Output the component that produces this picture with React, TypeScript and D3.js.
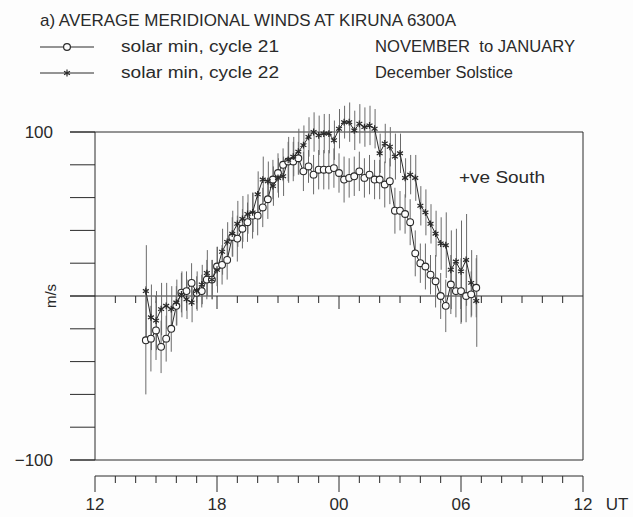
import React from 'react';
import * as d3 from 'd3';

// UT hours (12 = 12 UT, 24 = 00 UT next day, ...)
const utHours = [
  14.5, 14.75, 15, 15.25, 15.5, 15.75, 16, 16.25, 16.5, 16.75, 17, 17.25, 17.5, 17.75,
  18, 18.25, 18.5, 18.75, 19, 19.25, 19.5, 19.75, 20, 20.25, 20.5, 20.75,
  21, 21.25, 21.5, 21.75, 22, 22.25, 22.5, 22.75, 23, 23.25, 23.5, 23.75,
  24, 24.25, 24.5, 24.75, 25, 25.25, 25.5, 25.75, 26, 26.25, 26.5, 26.75,
  27, 27.25, 27.5, 27.75, 28, 28.25, 28.5, 28.75, 29, 29.25, 29.5, 29.75,
  30, 30.25, 30.5, 30.75,
];

// solar min, cycle 21 (circles)
const cycle21 = [
  -27, -26, -21, -31, -26, -20, -6, 2, 3, 8, 2, 3, 10, 10,
  18, 19, 22, 36, 35, 41, 45, 49, 49, 54, 59, 71,
  75, 80, 82, 82, 84, 76, 79, 74, 77, 77, 77, 78,
  75, 71, 72, 73, 76, 72, 74, 71, 71, 68, 70, 52,
  52, 50, 45, 26, 20, 18, 13, 9, 0, -6, 7, 3,
  3, 0, 1, 5,
];
const err21 = [
  33, 20, 18, 16, 14, 14, 12, 12, 12, 12, 10, 10, 12, 12,
  12, 12, 12, 12, 14, 12, 12, 14, 12, 12, 12, 12,
  12, 10, 12, 12, 10, 12, 10, 12, 12, 12, 12, 12,
  12, 14, 12, 12, 12, 12, 12, 12, 12, 14, 14, 14,
  12, 12, 14, 14, 12, 14, 12, 16, 14, 16, 18, 16,
  20, 16, 14, 18,
];

// solar min, cycle 22 (stars)
const cycle22 = [
  3, -13, -15, -8, -6, -8, -4, 1, -2, -4, 3, 7, 14, 10,
  16, 27, 33, 38, 44, 47, 50, 51, 62, 71, 70, 67,
  72, 73, 83, 85, 88, 92, 97, 100, 98, 99, 99, 95,
  102, 106, 106, 101, 105, 103, 104, 102, 87, 93, 91, 85,
  87, 72, 74, 72, 55, 51, 44, 38, 32, 31, 16, 21,
  15, 22, 8, -3,
];
const err22 = [
  28, 20, 18, 16, 14, 14, 14, 14, 12, 12, 12, 12, 14, 12,
  14, 14, 12, 14, 14, 14, 12, 12, 14, 14, 12, 12,
  12, 12, 14, 12, 14, 12, 12, 12, 12, 12, 12, 12,
  12, 10, 12, 12, 12, 12, 12, 12, 12, 12, 12, 14,
  12, 12, 12, 14, 12, 14, 12, 14, 16, 20, 24, 20,
  31, 28, 20, 28,
];

const yTicks = [-100, -80, -60, -40, -20, 0, 20, 40, 60, 80, 100];
const hourTicks = d3.range(13, 36);
const majorHours = [12, 18, 24, 30, 36];
const hourLabels = ['12', '18', '00', '06', '12'];

const INK = '#2a2a2a';
const BG = '#fdfdfd';
const FONT = '"Liberation Sans", Arial, sans-serif';

function Star({ cx, cy }: { cx: number; cy: number }) {
  const r = 3.4;
  const d = r * 0.87;
  return (
    <path
      d={`M${cx},${cy - r}V${cy + r}M${cx - d},${cy - r / 2}L${cx + d},${cy + r / 2}M${cx - d},${cy + r / 2}L${cx + d},${cy - r / 2}`}
      stroke={INK}
      strokeWidth={1.2}
      fill="none"
    />
  );
}

export default function App() {
  const x = d3.scaleLinear().domain([12, 36]).range([95, 583]);
  const y = d3.scaleLinear().domain([-100, 100]).range([460, 132]);
  const axisY = 476;

  const line = d3
    .line<number>()
    .x((_, i) => x(utHours[i]))
    .y((d) => y(d));

  return (
    <svg
      width={633}
      height={517}
      style={{ position: 'absolute', left: 0, top: 0, background: BG }}
      fontFamily={FONT}
    >
      {/* header */}
      <text x={40} y={26} fontSize={17} fill={INK} textLength={416} lengthAdjust="spacingAndGlyphs">
        a) AVERAGE MERIDIONAL WINDS AT KIRUNA 6300A
      </text>
      <line x1={40} x2={94} y1={47} y2={47} stroke={INK} strokeWidth={1} />
      <circle cx={67} cy={47} r={3.4} fill={BG} stroke={INK} strokeWidth={1.2} />
      <text x={121} y={52} fontSize={16} fill={INK} textLength={158} lengthAdjust="spacingAndGlyphs">
        solar min, cycle 21
      </text>
      <text
        x={375}
        y={52}
        fontSize={16}
        fill={INK}
        textLength={200}
        lengthAdjust="spacingAndGlyphs"
        style={{ whiteSpace: 'pre' }}
      >
        NOVEMBER  to JANUARY
      </text>
      <line x1={40} x2={94} y1={73} y2={73} stroke={INK} strokeWidth={1} />
      <Star cx={67} cy={73} />
      <text x={121} y={78} fontSize={16} fill={INK} textLength={158} lengthAdjust="spacingAndGlyphs">
        solar min, cycle 22
      </text>
      <text x={375} y={78} fontSize={16} fill={INK} textLength={138} lengthAdjust="spacingAndGlyphs">
        December Solstice
      </text>

      {/* frame */}
      <line x1={x(12)} x2={x(12)} y1={y(100)} y2={y(-100)} stroke={INK} strokeWidth={1} />
      <line x1={x(36)} x2={x(36)} y1={y(100)} y2={y(-100)} stroke={INK} strokeWidth={1} />
      {[100, 0, -100].map((v) => (
        <line key={v} x1={70} x2={x(36)} y1={y(v)} y2={y(v)} stroke={INK} strokeWidth={1} />
      ))}
      {yTicks.map((v) => (
        <line key={'yt' + v} x1={70} x2={x(12)} y1={y(v)} y2={y(v)} stroke={INK} strokeWidth={1} />
      ))}
      {/* hour ticks on zero line */}
      {hourTicks.map((h) => (
        <line
          key={'zt' + h}
          x1={x(h)}
          x2={x(h)}
          y1={y(0)}
          y2={y(0) + (majorHours.includes(h) ? 13 : 7)}
          stroke={INK}
          strokeWidth={1}
        />
      ))}
      <text x={53} y={y(100)} dy="0.35em" fontSize={17} fill={INK} textAnchor="end">
        100
      </text>
      <text x={53} y={y(-100)} dy="0.35em" fontSize={17} fill={INK} textAnchor="end">
        −100
      </text>
      <text
        transform={`translate(51,${y(0)}) rotate(-90)`}
        fontSize={15}
        fill={INK}
        textAnchor="middle"
        dy="0.35em"
      >
        m/s
      </text>
      <text x={459} y={183} fontSize={16} fill={INK} textLength={86} lengthAdjust="spacingAndGlyphs">
        +ve South
      </text>

      {/* UT axis */}
      <line x1={x(12)} x2={x(36)} y1={axisY} y2={axisY} stroke={INK} strokeWidth={1} />
      {d3.range(12, 37).map((h) => (
        <line
          key={'xt' + h}
          x1={x(h)}
          x2={x(h)}
          y1={axisY}
          y2={axisY + (majorHours.includes(h) ? 16 : 7)}
          stroke={INK}
          strokeWidth={1}
        />
      ))}
      {majorHours.map((h, i) => (
        <text key={'xl' + h} x={x(h)} y={510} fontSize={17} fill={INK} textAnchor="middle">
          {hourLabels[i]}
        </text>
      ))}
      <text x={617} y={510} fontSize={17} fill={INK} textAnchor="middle">
        UT
      </text>

      {/* error bars */}
      {utHours.map((h, i) => (
        <line
          key={'e21' + i}
          x1={x(h)}
          x2={x(h)}
          y1={y(cycle21[i] - err21[i])}
          y2={y(cycle21[i] + err21[i])}
          stroke="#6a6a6a"
          strokeWidth={1}
        />
      ))}
      {utHours.map((h, i) => (
        <line
          key={'e22' + i}
          x1={x(h) + 0.5}
          x2={x(h) + 0.5}
          y1={y(cycle22[i] - err22[i])}
          y2={y(cycle22[i] + err22[i])}
          stroke="#6a6a6a"
          strokeWidth={1}
        />
      ))}

      {/* series lines */}
      <path d={line(cycle21) || ''} fill="none" stroke={INK} strokeWidth={1} />
      <path d={line(cycle22) || ''} fill="none" stroke={INK} strokeWidth={1} />

      {/* markers */}
      {utHours.map((h, i) => (
        <circle
          key={'c' + i}
          cx={x(h)}
          cy={y(cycle21[i])}
          r={3.4}
          fill={BG}
          stroke={INK}
          strokeWidth={1.1}
        />
      ))}
      {utHours.map((h, i) => (
        <Star key={'s' + i} cx={x(h)} cy={y(cycle22[i])} />
      ))}
    </svg>
  );
}
